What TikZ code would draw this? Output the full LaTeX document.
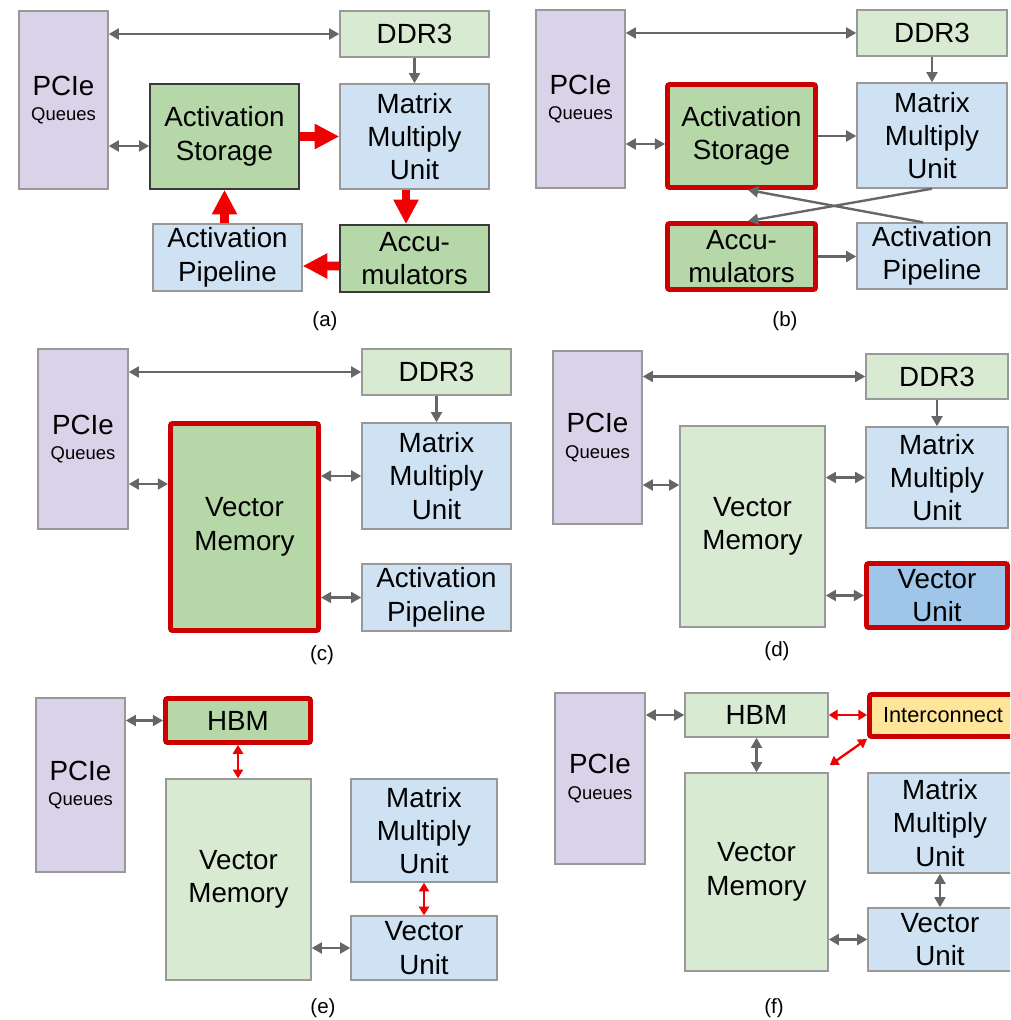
\documentclass[tikz,border=0pt]{standalone}
\usepackage{fontspec}
\setmainfont{Liberation Sans}
\usetikzlibrary{arrows.meta,calc}
\definecolor{qpurple}{HTML}{D9D2E9}
\definecolor{lgreen}{HTML}{D9EAD3}
\definecolor{mgreen}{HTML}{B6D7A8}
\definecolor{lblue}{HTML}{CFE2F3}
\definecolor{mblue}{HTML}{9FC5E8}
\definecolor{lyellow}{HTML}{FFE599}
\definecolor{edgegray}{HTML}{999999}
\definecolor{darkedge}{HTML}{3A3A3A}
\definecolor{hotred}{HTML}{CC0000}
\definecolor{arrgray}{HTML}{666666}
\definecolor{redarr}{HTML}{F00000}
\newcommand\pcieq{PCIe\\[-4.5pt]{\fontsize{10.5pt}{12pt}\selectfont Queues}}
% block from its corners: name, x1, y1, x2, y2, options, text
\newcommand\bx[7]{%
  \pgfmathsetmacro\bxcx{(#2+#4)/2}\pgfmathsetmacro\bxcy{(#3+#5)/2}%
  \pgfmathsetmacro\bxw{(#4-#2)*0.02}\pgfmathsetmacro\bxh{(#5-#3)*0.02}%
  \node[blk,#6,minimum width=\bxw cm,minimum height=\bxh cm] (#1) at (\bxcx,\bxcy) {#7};}
\begin{document}
\begin{tikzpicture}[x=0.02cm,y=-0.02cm,
  blk/.style={draw=edgegray, line width=0.8pt, inner sep=0pt, align=center,
    font=\fontsize{15.8pt}{19pt}\selectfont},
  hot/.style={draw=hotred, line width=2.8pt, rounded corners=1.2pt},
  darkbox/.style={draw=darkedge, line width=0.9pt},
  gtip/.tip={Triangle[length=5.8pt,width=6.2pt]},
  rtip/.tip={Triangle[length=5pt,width=5.8pt]},
  gg/.style={draw=arrgray, line width=1.35pt, gtip-gtip},
  g1/.style={draw=arrgray, line width=1.35pt, -gtip},
  rr/.style={draw=redarr, line width=1.35pt, rtip-rtip},
  bigr/.style={draw=redarr, line width=5pt, -{Triangle[length=14pt,width=13.5pt]}},
  tag/.style={font=\fontsize{11.7pt}{14pt}\selectfont}
]
\clip (0,0) rectangle (1010,1020);
\fill[white] (0,0) rectangle (1010,1020);

% ---------------- (a) ----------------
\bx{pcieA}{19}{11}{108}{189}{fill=qpurple}{\pcieq}
\bx{ddrA}{340}{11}{489}{57}{fill=lgreen}{DDR3}
\bx{asA}{150}{84}{299}{189}{darkbox, fill=mgreen}{Activation\\Storage}
\bx{mmuA}{340}{84}{489}{189}{fill=lblue}{Matrix\\Multiply\\Unit}
\bx{apA}{153}{224}{302}{291}{fill=lblue}{Activation\\Pipeline}
\bx{accA}{340}{225}{489}{292}{darkbox, fill=mgreen}{Accu-\\mulators}
\node[tag] (labA) at (325,321) {(a)};

\draw[gg] (pcieA.east |- ddrA.west) -- (ddrA.west);
\draw[gg] (pcieA.east |- 0,146) -- (asA.west |- 0,146);
\draw[g1] (ddrA.south) -- (mmuA.north);
\draw[bigr] (asA.east) -- (mmuA.west |- asA.east);
\draw[bigr] ($(mmuA.south)+(-8.5,0)$) -- ($(accA.north)+(-8.5,0)$);
\draw[bigr] ($(accA.west)+(0,7.5)$) -- (apA.east |- 0,266);
\draw[bigr] (apA.north -| asA.south) -- (asA.south);

% ---------------- (b) ----------------
\bx{pcieB}{536}{10}{625}{188}{fill=qpurple}{\pcieq}
\bx{ddrB}{857}{10}{1007}{56}{fill=lgreen}{DDR3}
\bx{asB}{667.5}{84.5}{815.5}{187.5}{hot, fill=mgreen}{Activation\\Storage}
\bx{mmuB}{857}{83}{1007}{188}{fill=lblue}{Matrix\\Multiply\\Unit}
\bx{accB}{667.5}{223.5}{815.5}{289.5}{hot, fill=mgreen}{Accu-\\mulators}
\bx{apB}{857}{223}{1007}{289}{fill=lblue}{Activation\\Pipeline}
\node[tag] (labB) at (785,321) {(b)};

\draw[gg] (pcieB.east |- ddrB.west) -- (ddrB.west);
\draw[gg] (pcieB.east |- 0,144) -- (asB.west |- 0,144);
\draw[g1] (ddrB.south) -- (mmuB.north);
\draw[g1] (asB.east) -- (mmuB.west |- asB.east);
\draw[g1] (accB.east) -- (apB.west |- accB.east);
\draw[g1] (mmuB.south) -- ($(accB.north)+(6.5,0)$);
\draw[g1] ($(apB.north)+(-9,0)$) -- ($(asB.south)+(6.5,0)$);

% ---------------- (c) ----------------
\bx{pcieC}{38}{349}{128}{529}{fill=qpurple}{\pcieq}
\bx{ddrC}{362}{349}{511}{395}{fill=lgreen}{DDR3}
\bx{vmC}{170.5}{423.5}{318.5}{630.5}{hot, fill=mgreen}{Vector\\Memory}
\bx{mmuC}{362}{423}{511}{529}{fill=lblue}{Matrix\\Multiply\\Unit}
\bx{apC}{362}{564}{511}{631}{fill=lblue}{Activation\\Pipeline}
\node[tag] (labC) at (322,655) {(c)};

\draw[gg] (pcieC.east |- ddrC.west) -- (ddrC.west);
\draw[gg] (pcieC.east |- 0,484) -- (vmC.west |- 0,484);
\draw[g1] (ddrC.south) -- (mmuC.north);
\draw[gg] (vmC.east |- mmuC.west) -- (mmuC.west);
\draw[gg] (vmC.east |- apC.west) -- (apC.west);

% ---------------- (d) ----------------
\bx{pcieD}{553}{351}{642}{524}{fill=qpurple}{\pcieq}
\bx{ddrD}{866}{354}{1008}{399}{fill=lgreen}{DDR3}
\bx{vmD}{680}{426}{825}{627}{fill=lgreen}{Vector\\Memory}
\bx{mmuD}{866}{427}{1008}{528}{fill=lblue}{Matrix\\Multiply\\Unit}
\bx{vuD}{866.5}{563.5}{1007.5}{627.5}{hot, fill=mblue}{Vector\\Unit}
\node[tag] (labD) at (777,651) {(d)};

\draw[gg] (pcieD.east |- ddrD.west) -- (ddrD.west);
\draw[gg] (pcieD.east |- 0,485) -- (vmD.west |- 0,485);
\draw[g1] (ddrD.south) -- (mmuD.north);
\draw[gg] (vmD.east |- mmuD.west) -- (mmuD.west);
\draw[gg] (vmD.east |- vuD.west) -- (vuD.west);

% ---------------- (e) ----------------
\bx{pcieE}{36}{698}{125}{872}{fill=qpurple}{\pcieq}
\bx{hbmE}{165.5}{698.5}{310.5}{742.5}{hot, fill=mgreen}{HBM}
\bx{vmE}{166}{779}{311}{980}{fill=lgreen}{Vector\\Memory}
\bx{mmuE}{351}{779}{497}{882}{fill=lblue}{Matrix\\Multiply\\Unit}
\bx{vuE}{351}{916}{497}{980}{fill=lblue}{Vector\\Unit}
\node[tag] (labE) at (323,1008) {(e)};

\draw[gg] (pcieE.east |- hbmE.west) -- (hbmE.west);
\draw[rr] (hbmE.south) -- (vmE.north -| hbmE.south);
\draw[rr] (mmuE.south) -- (vuE.north);
\draw[gg] (vmE.east |- vuE.west) -- (vuE.west);

% ---------------- (f) ----------------
\bx{pcieF}{555}{693}{645}{864}{fill=qpurple}{\pcieq}
\bx{hbmF}{685}{693}{828}{737}{fill=lgreen}{HBM}
\bx{icF}{869.5}{694.5}{1016.5}{736.5}{hot, fill=lyellow, font=\fontsize{12.4pt}{14pt}\selectfont}{Interconnect}
\bx{vmF}{685}{773}{828}{971}{fill=lgreen}{Vector\\Memory}
\bx{mmuF}{868}{773}{1012}{873}{fill=lblue}{Matrix\\Multiply\\Unit}
\bx{vuF}{868}{908}{1012}{971}{fill=lblue}{Vector\\Unit}
\node[tag] (labF) at (774,1008) {(f)};
\coordinate (icEnd) at ($(vmF.north east)+(1,-7)$);

\draw[gg] (pcieF.east |- hbmF.west) -- (hbmF.west);
\draw[rr] (hbmF.east) -- (icF.west |- hbmF.east);
\draw[rr] (icF.south west) -- (icEnd);
\draw[gg] (hbmF.south) -- (vmF.north -| hbmF.south);
\draw[gg] (mmuF.south) -- (vuF.north);
\draw[gg] (vmF.east |- vuF.west) -- (vuF.west);
\end{tikzpicture}
\end{document}
